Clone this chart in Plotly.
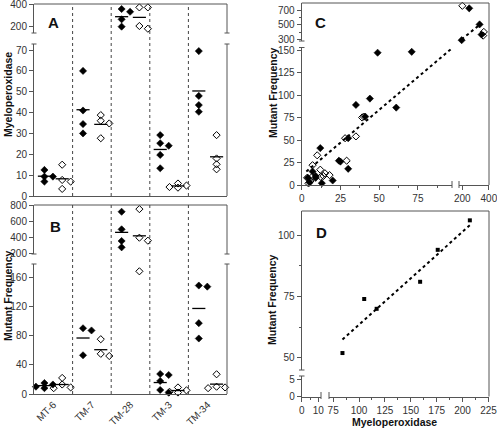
import numpy as np
import plotly.graph_objects as go

W, H = 497, 429
FONT = "Liberation Sans, Arial, sans-serif"
LC = "#555555"
TC = "#333333"

# ---------------- data ----------------
CATEGORIES = ["MT-6", "TM-7", "TM-28", "TM-3", "TM-34"]

MPO_FILLED = [[12.5, 9.3, 9.3, 6.9], [60, 41, 34.5, 30], [355, 330, 261, 194],
              [29.2, 25.3, 24.1, 19.7, 13.3], [69.5, 48, 43.6, 40.4]]
MPO_OPEN = [[15, 7.7, 6.9, 3.4], [38.8, 36.1, 34.8, 27.7], [370, 370, 200, 175],
            [6, 5, 4.3, 4], [29.2, 18, 15.2, 12.8]]
MF_FILLED = [[15, 13, 10, 8], [90, 87, 53], [717, 498, 353, 274],
             [27.4, 26, 17.8, 5.5, 1.8], [148.5, 147, 97, 76]]
MF_OPEN = [[22, 13, 9, 8], [75, 55, 52], [750, 394, 357, 168],
           [9, 5, 3, 2], [27, 10, 8, 9]]

C_FILLED_MPO = [71, 49, 44, 41, 61, 35, 30, 24, 25, 30, 20, 13, 12, 9, 9, 7, 4, 5,
                252, 330, 195, 345]
C_FILLED_MF = [148, 147, 96, 76, 86, 89, 52, 27, 26, 18, 5, 2, 41, 10, 8, 15, 8, 3,
               723, 505, 291, 367]
C_OPEN_MPO = [10, 39, 40, 28, 35, 29, 7, 12, 15, 18, 14, 6.7, 3.5, 5.7, 4.4, 12.3,
              200, 362, 357]
C_OPEN_MF = [33, 75, 76, 52, 54, 27, 22, 17, 13, 11, 10, 9, 8, 4.5, 1.8, 9,
             757, 403, 353]
C_FIT_MPO = [3, 97, 195, 345]
C_FIT_MF = [15, 152, 303, 520]

D_MPO = [84, 105, 117, 159, 176, 207]
D_MF = [52, 74, 70, 81, 94, 106]
D_FIT_MPO = [84, 207]
D_FIT_MF = [57.5, 104]


# ---------------- geometry helpers ----------------
def fx(p):
    return p / W


def fy(p):
    return 1 - p / H


def xdom(a, b):
    return [fx(a), fx(b)]


def ydom(top, bottom):
    return [fy(bottom), fy(top)]


# broken y segments for strip panels: (top_px, bottom_px, lo, hi)
A_LOW = (44, 196, 0, 72.9)
A_UP = (4, 33, 136, 401)
B_LOW = (264, 394, 0, 178)
B_UP = (205, 254, 191, 801)
GROUP_PX = (227 - 34) / 5.0

fig = go.Figure()

FILLED_MK = dict(symbol="diamond", size=5.5, color="black", line=dict(color="black", width=0.6))
OPEN_MK = dict(symbol="diamond-open", size=5.5, color="black", line=dict(color="black", width=1))


def seg_pix(v, low, up):
    seg = low if v <= low[3] else up
    t, b, lo, hi = seg
    return b - (v - lo) / (hi - lo) * (b - t)


def swarm(vals, low, up):
    px = [seg_pix(v, low, up) for v in vals]
    order = np.argsort(px)
    placed = []
    offs = np.zeros(len(vals))
    for idx in order:
        chosen = 0.0
        for o in [0.0, 0.11, -0.11, 0.22, -0.22]:
            ok = True
            for py, po in placed:
                if abs(px[idx] - py) < 5 and abs(o - po) * GROUP_PX < 5:
                    ok = False
                    break
            if ok:
                chosen = o
                break
        offs[idx] = chosen
        placed.append((px[idx], chosen))
    return offs


def strip(groups, filled, xname, low, up, ylow, yup):
    base_off = 0.27 if filled else 0.73
    mk = FILLED_MK if filled else OPEN_MK
    for gi, vals in enumerate(groups):
        vals = np.array(vals, dtype=float)
        offs = swarm(vals, low, up)
        xs = gi + base_off + offs
        is_low = vals <= low[3]
        for mask, yname in ((is_low, ylow), (~is_low, yup)):
            if mask.any():
                fig.add_trace(go.Scatter(
                    x=xs[mask], y=vals[mask], xaxis=xname, yaxis=yname,
                    mode="markers", cliponaxis=False, showlegend=False, marker=mk))
        m = float(np.mean(vals))
        yname = ylow if m <= low[3] else yup
        c = gi + base_off
        fig.add_trace(go.Scatter(
            x=[c - 0.17, c + 0.17], y=[m, m], xaxis=xname, yaxis=yname,
            mode="lines", cliponaxis=False, showlegend=False,
            line=dict(color="black", width=1.3)))


strip(MPO_FILLED, True, "x", A_LOW, A_UP, "y", "y2")
strip(MPO_OPEN, False, "x", A_LOW, A_UP, "y", "y2")
strip(MF_FILLED, True, "x2", B_LOW, B_UP, "y3", "y4")
strip(MF_OPEN, False, "x2", B_LOW, B_UP, "y3", "y4")

# ---------------- panel C ----------------
C_XBREAK = 97
for xs, ys, mk in ((C_FILLED_MPO, C_FILLED_MF, FILLED_MK),
                   (C_OPEN_MPO, C_OPEN_MF, OPEN_MK)):
    xs = np.array(xs, float)
    ys = np.array(ys, float)
    lowm = xs <= C_XBREAK
    for mask, xa, ya in ((lowm, "x3", "y5"), (~lowm, "x4", "y6")):
        fig.add_trace(go.Scatter(
            x=xs[mask], y=ys[mask], xaxis=xa, yaxis=ya, mode="markers",
            cliponaxis=False, showlegend=False, marker=mk))
fig.add_trace(go.Scatter(x=C_FIT_MPO[:2], y=C_FIT_MF[:2], xaxis="x3", yaxis="y5",
                         mode="lines", showlegend=False, cliponaxis=False,
                         line=dict(color="black", width=2, dash="dot")))
fig.add_trace(go.Scatter(x=C_FIT_MPO[2:], y=C_FIT_MF[2:], xaxis="x4", yaxis="y6",
                         mode="lines", showlegend=False, cliponaxis=False,
                         line=dict(color="black", width=2, dash="dot")))

# ---------------- panel D ----------------
fig.add_trace(go.Scatter(x=D_MPO, y=D_MF, xaxis="x6", yaxis="y8", mode="markers",
                         cliponaxis=False, showlegend=False,
                         marker=dict(symbol="square", size=4, color="black")))
fig.add_trace(go.Scatter(x=D_FIT_MPO, y=D_FIT_MF, xaxis="x6", yaxis="y8",
                         mode="lines", showlegend=False, cliponaxis=False,
                         line=dict(color="black", width=2, dash="dot")))
fig.add_trace(go.Scatter(x=[None], y=[None], xaxis="x5", yaxis="y7",
                         showlegend=False, hoverinfo="skip"))

# ---------------- axes ----------------
AX = dict(showgrid=False, zeroline=False, showline=True, linecolor=LC, linewidth=1,
          ticks="outside", ticklen=4, tickwidth=1, tickcolor=LC,
          tickfont=dict(family=FONT, size=10, color=TC), automargin=False,
          fixedrange=True, ticklabeloverflow="allow")


def yax(seg, anchor, tick0, dtick, minor=None):
    t, b, lo, hi = seg
    d = dict(AX, domain=ydom(t, b), range=[lo, hi], anchor=anchor,
             tickmode="linear", tick0=tick0, dtick=dtick)
    if minor:
        d["minor"] = dict(ticks="outside", ticklen=2, tickcolor=LC, dtick=minor,
                          tick0=tick0, showgrid=False)
    return d


def xax(a, b, rng, anchor, tick0=0, dtick=1, minor=None, **kw):
    d = dict(AX, domain=xdom(a, b), range=rng, anchor=anchor,
             tickmode="linear", tick0=tick0, dtick=dtick)
    if minor:
        d["minor"] = dict(ticks="outside", ticklen=2, tickcolor=LC, dtick=minor,
                          tick0=tick0, showgrid=False)
    d.update(kw)
    return d


C_YLOW = (47.5, 185, 0, 152.8)
C_YUP = (3, 41, 280, 795)
D_YLOW = (376, 396.5, 0, 5.86)
D_YUP = (211, 370, 45.1, 109.8)

fig.update_layout(
    xaxis=xax(34, 227, [0, 5], "y", showticklabels=False, ticks=""),
    yaxis=yax(A_LOW, "x", 0, 10),
    yaxis2=yax(A_UP, "x", 200, 200),
    xaxis2=xax(34, 227, [0, 5], "y3", ticks="", tickmode="array",
               tickvals=[i + 0.5 for i in range(len(CATEGORIES))],
               ticktext=CATEGORIES, tickangle=-45),
    yaxis3=yax(B_LOW, "x2", 0, 40),
    yaxis4=yax(B_UP, "x2", 200, 200),
    xaxis3=xax(301.7, 452, [0, 97], "y5", 0, 25, 12.5),
    xaxis4=xax(459, 489, [175, 401], "y5", 200, 200),
    yaxis5=yax(C_YLOW, "x3", 0, 25),
    yaxis6=yax(C_YUP, "x3", 300, 200, 100),
    xaxis5=xax(301.7, 321, [0, 11.6], "y7", 0, 10, 5),
    xaxis6=xax(329, 489, [71, 225.5], "y7", 75, 25, 12.5),
    yaxis7=yax(D_YLOW, "x5", 0, 5),
    yaxis8=yax(D_YUP, "x5", 50, 25, 12.5),
)

# ---------------- frames, breaks, separators ----------------
shapes = []
LN = dict(color=LC, width=1)


def hline(x0, x1, y):
    shapes.append(dict(type="line", xref="paper", yref="paper", x0=fx(x0), x1=fx(x1),
                       y0=fy(y), y1=fy(y), line=LN))


def vline(x, y0, y1):
    shapes.append(dict(type="line", xref="paper", yref="paper", x0=fx(x), x1=fx(x),
                       y0=fy(y0), y1=fy(y1), line=LN))


# panel A
hline(34, 227, 4)
vline(227, 4, 33)
vline(227, 44, 196)
for xx in (34, 227):
    hline(xx - 2.5, xx + 2.5, 33)
    hline(xx - 2.5, xx + 2.5, 44)
# panel B
hline(34, 227, 205)
vline(227, 205, 254)
vline(227, 264, 394)
for xx in (34, 227):
    hline(xx - 2.5, xx + 2.5, 254)
    hline(xx - 2.5, xx + 2.5, 264)
# panel C
hline(301.7, 489, 3)
vline(489, 3, 185)
hline(299, 304.5, 41)
hline(299, 304.5, 47.5)
vline(452, 181, 188)
vline(459, 181, 188)
# panel D
hline(301.7, 489, 211)
vline(489, 211, 396.5)
hline(299, 304.5, 370)
hline(299, 304.5, 376)
vline(321, 392, 399)
vline(329, 392, 399)

for k in range(1, len(CATEGORIES)):
    shapes.append(dict(type="line", xref="x", yref="paper", x0=k, x1=k,
                       y0=fy(196), y1=fy(4), line=dict(color="#444", width=1, dash="dot")))
    shapes.append(dict(type="line", xref="x2", yref="paper", x0=k, x1=k,
                       y0=fy(394), y1=fy(205), line=dict(color="#444", width=1, dash="dot")))

# ---------------- text ----------------
ann = []


def label(text, x, y, size=10.5, angle=0):
    ann.append(dict(text="<b>%s</b>" % text, x=fx(x), y=fy(y), xref="paper",
                    yref="paper", showarrow=False, textangle=angle,
                    xanchor="center", yanchor="middle",
                    font=dict(family=FONT, size=size, color="#111")))


label("Myeloperoxidase", 8, 95, angle=-90)
label("Mutant Frequency", 8, 296, angle=-90)
label("Mutant Frequency", 273, 93, angle=-90)
label("Mutant Frequency", 272, 300, angle=-90)
label("Myeloperoxidase", 394, 422)
label("A", 53, 23, size=15)
label("B", 55, 226, size=15)
label("C", 320, 23, size=15)
label("D", 321, 232, size=15)

fig.update_layout(
    width=W, height=H, autosize=False,
    margin=dict(l=0, r=0, t=0, b=0, pad=0),
    paper_bgcolor="white", plot_bgcolor="white",
    showlegend=False, shapes=shapes, annotations=ann,
    font=dict(family=FONT, size=10, color=TC),
)

fig.write_html("out.html",
               config={"displayModeBar": False, "staticPlot": True},
               post_script="document.body.style.margin='0px';document.body.style.overflow='hidden';")
